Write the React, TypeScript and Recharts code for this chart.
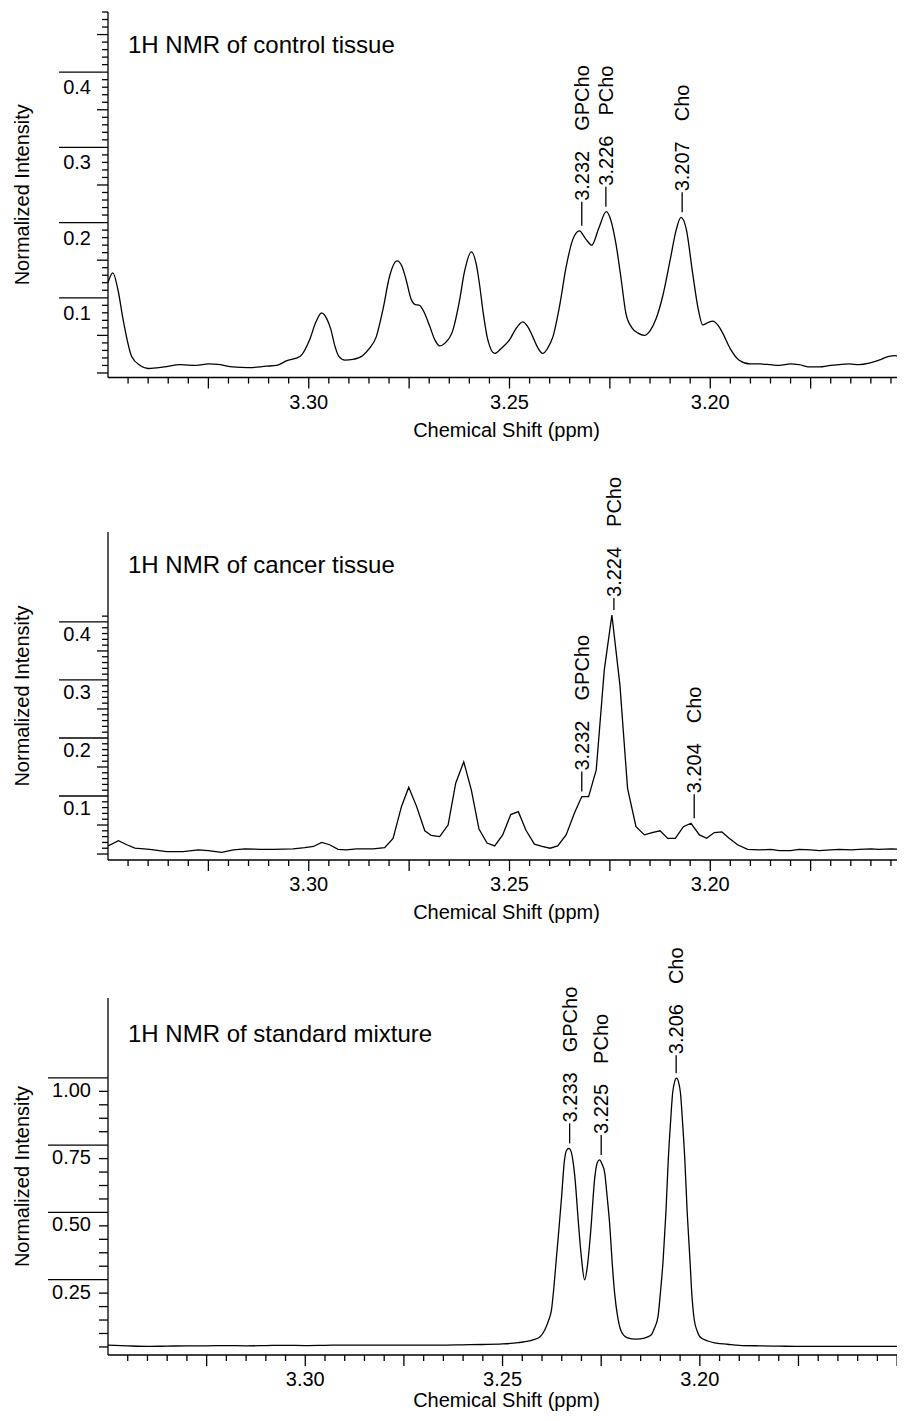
import React from "react";
import { Line, LineChart, ReferenceDot, XAxis, YAxis } from "recharts";

const FONT = '"Liberation Sans", Arial, Helvetica, sans-serif';

// control tissue spectrum (ppm, normalized intensity)
const controlShift = [
  3.35, 3.3488, 3.3475, 3.3462, 3.3441, 3.342, 3.34, 3.336, 3.332, 3.328, 3.325,
  3.322, 3.319, 3.315, 3.3105, 3.308, 3.3056, 3.3022, 3.2998, 3.2982, 3.2968,
  3.2955, 3.2945, 3.2935, 3.2925, 3.291, 3.289, 3.2866, 3.285, 3.2832, 3.2815,
  3.2799, 3.278, 3.2768, 3.2758, 3.2745, 3.2735, 3.2724, 3.2712, 3.27, 3.2685,
  3.2674, 3.266, 3.2641, 3.2625, 3.2612, 3.2595, 3.2583, 3.2575, 3.2565, 3.2554,
  3.2537, 3.252, 3.25, 3.2485, 3.2467, 3.2455, 3.2442, 3.243, 3.2417, 3.2405,
  3.2392, 3.2375, 3.2359, 3.2342, 3.2326, 3.231, 3.2295, 3.2278, 3.2259, 3.2247,
  3.2235, 3.2222, 3.221, 3.2195, 3.218, 3.2164, 3.215, 3.2135, 3.2119, 3.21,
  3.2085, 3.2073, 3.206, 3.2044, 3.203, 3.2019, 3.2006, 3.1994, 3.198, 3.1969,
  3.195, 3.1928, 3.19, 3.1878, 3.185, 3.1828, 3.18, 3.1779, 3.175, 3.1729, 3.17,
  3.168, 3.1654, 3.163, 3.1604, 3.158, 3.1555, 3.154, 3.1515,
];
const controlIntensity = [
  0.12, 0.133, 0.11, 0.07, 0.022, 0.01, 0.006, 0.008, 0.011, 0.01, 0.012,
  0.011, 0.008, 0.007, 0.009, 0.01, 0.016, 0.022, 0.044, 0.068, 0.08,
  0.072, 0.058, 0.036, 0.022, 0.017, 0.018, 0.023, 0.032, 0.048, 0.085,
  0.128, 0.149, 0.142, 0.125, 0.098, 0.091, 0.09, 0.08, 0.064, 0.043,
  0.036, 0.04, 0.057, 0.095, 0.135, 0.161, 0.145, 0.119, 0.078, 0.044,
  0.026, 0.033, 0.044, 0.058, 0.068, 0.062, 0.048, 0.034, 0.026, 0.033,
  0.048, 0.09, 0.141, 0.178, 0.189, 0.178, 0.17, 0.192, 0.2145, 0.202,
  0.172, 0.125, 0.079, 0.06, 0.053, 0.05, 0.056, 0.072, 0.101, 0.15,
  0.19, 0.207, 0.192, 0.133, 0.085, 0.064, 0.067, 0.069, 0.063, 0.053,
  0.032, 0.017, 0.012, 0.012, 0.011, 0.01, 0.012, 0.011, 0.008, 0.008, 0.01,
  0.011, 0.012, 0.011, 0.013, 0.017, 0.022, 0.023, 0.019,
];

// cancer tissue spectrum
const cancerShift = [
  3.35, 3.3474, 3.3453, 3.3433, 3.3396, 3.3354, 3.3313, 3.3275, 3.325, 3.3217,
  3.3188, 3.3159, 3.312, 3.3089, 3.3039, 3.301, 3.2988, 3.2968, 3.2948, 3.2927,
  3.2906, 3.2881, 3.284, 3.2811, 3.279, 3.2769, 3.2751, 3.2732, 3.2711, 3.2695,
  3.2674, 3.2653, 3.2634, 3.2614, 3.2595, 3.2576, 3.2556, 3.2537, 3.2517, 3.2497,
  3.2478, 3.2459, 3.2438, 3.2419, 3.2399, 3.238, 3.2359, 3.2338, 3.232, 3.2303,
  3.2284, 3.2264, 3.2245, 3.2225, 3.2206, 3.2185, 3.2164, 3.2145, 3.2125, 3.2106,
  3.2087, 3.2067, 3.2048, 3.2027, 3.2009, 3.199, 3.1971, 3.1953, 3.1932, 3.1907,
  3.1878, 3.185, 3.1828, 3.18, 3.1779, 3.175, 3.1729, 3.17, 3.1679, 3.165,
  3.1629, 3.16, 3.158, 3.155, 3.1517,
];
const cancerIntensity = [
  0.014, 0.023, 0.016, 0.01, 0.008, 0.004, 0.004, 0.007, 0.006, 0.003,
  0.007, 0.009, 0.008, 0.008, 0.009, 0.011, 0.013, 0.02, 0.016, 0.008,
  0.007, 0.009, 0.009, 0.011, 0.027, 0.082, 0.115, 0.083, 0.04, 0.032,
  0.03, 0.05, 0.122, 0.159, 0.11, 0.043, 0.019, 0.014, 0.033, 0.068,
  0.073, 0.041, 0.017, 0.013, 0.01, 0.014, 0.033, 0.071, 0.099, 0.099,
  0.145, 0.317, 0.412, 0.291, 0.113, 0.047, 0.033, 0.037, 0.04, 0.027,
  0.027, 0.047, 0.053, 0.033, 0.027, 0.037, 0.038, 0.027, 0.016, 0.008,
  0.007, 0.008, 0.006, 0.006, 0.008, 0.007, 0.006, 0.007, 0.008, 0.007,
  0.008, 0.009, 0.008, 0.009, 0.008,
];

// standard mixture spectrum
const standardShift = [
  3.35, 3.345, 3.34, 3.335, 3.33, 3.325, 3.32, 3.315, 3.31, 3.305, 3.3, 3.295,
  3.29, 3.285, 3.28, 3.275, 3.27, 3.265, 3.26, 3.255, 3.25, 3.246, 3.2423,
  3.2405, 3.2393, 3.2383, 3.2376, 3.237, 3.2364, 3.2357, 3.2351, 3.2343, 3.2338,
  3.2332, 3.2326, 3.2322, 3.2316, 3.2309, 3.23, 3.2292, 3.2285, 3.2277, 3.2266,
  3.226, 3.2254, 3.2248, 3.2241, 3.2235, 3.2228, 3.2222, 3.2216, 3.2208, 3.2199,
  3.2185, 3.2161, 3.214, 3.2123, 3.2115, 3.2106, 3.21, 3.2093, 3.2086, 3.208,
  3.2074, 3.2069, 3.2064, 3.2059, 3.2054, 3.2049, 3.2044, 3.2038, 3.2032, 3.2025,
  3.202, 3.2014, 3.2007, 3.2, 3.198, 3.1958, 3.193, 3.19, 3.1848, 3.18, 3.175,
  3.17, 3.165, 3.16, 3.155, 3.15, 3.148,
];
const standardIntensity = [
  0.007, 0.004, 0.002, 0.003, 0.004, 0.004, 0.005, 0.004, 0.005, 0.006, 0.005, 0.006,
  0.007, 0.007, 0.007, 0.007, 0.007, 0.007, 0.008, 0.009, 0.011, 0.016, 0.026,
  0.038, 0.063, 0.1, 0.138, 0.22, 0.323, 0.44, 0.546, 0.695, 0.73,
  0.738, 0.725, 0.695, 0.62, 0.485, 0.33, 0.249, 0.3, 0.422, 0.633,
  0.685, 0.695, 0.68, 0.646, 0.56, 0.447, 0.31, 0.2, 0.11, 0.057,
  0.035, 0.029, 0.033, 0.045, 0.07, 0.113, 0.2, 0.323, 0.5, 0.695,
  0.84, 0.943, 0.985, 0.999, 0.985, 0.943, 0.84, 0.695, 0.5, 0.323,
  0.19, 0.1, 0.06, 0.038, 0.022, 0.014, 0.01, 0.006, 0.004, 0.003, 0.002,
  0.002, 0.002, 0.002, 0.002, 0.002, 0.002,
];

// annotated peaks
const controlPeakShift = [3.232, 3.226, 3.207];
const controlPeakHeight = [0.189, 0.2145, 0.207];
const cancerPeakShift = [3.232, 3.224, 3.204];
const cancerPeakHeight = [0.099, 0.412, 0.053];
const standardPeakShift = [3.233, 3.225, 3.206];
const standardPeakHeight = [0.738, 0.695, 0.999];
const peakNames = ["GPCho", "PCho", "Cho"];

// axis ticks
const xLabelValues = [3.3, 3.25, 3.2];
const xLabelText = ["3.30", "3.25", "3.20"];
const tissueYLabelValues = [0.1, 0.2, 0.3, 0.4];
const tissueYLabelText = ["0.1", "0.2", "0.3", "0.4"];
const standardYLabelValues = [0.25, 0.5, 0.75, 1.0];
const standardYLabelText = ["0.25", "0.50", "0.75", "1.00"];

const range = (start: number, stop: number, step: number) => {
  const out: number[] = [];
  const n = Math.round((stop - start) / step);
  for (let i = 0; i <= n; i++) out.push(Math.round((start + i * step) * 10000) / 10000);
  return out;
};

const near = (a: number, b: number) => Math.abs(a - b) < 1e-6;

const XTick = (props: any) => {
  const { x, y, payload } = props;
  const v = payload.value;
  const major = Math.round(v * 1000) % 25 === 0;
  const idx = xLabelValues.findIndex((t) => near(t, v));
  return (
    <g>
      <line x1={x} x2={x} y1={y} y2={y + (major ? 11 : 6)} stroke="#000" strokeWidth={1.3} />
      {idx >= 0 && (
        <text x={x} y={y + 31} textAnchor="middle" fontSize={20} fill="#000">
          {xLabelText[idx]}
        </text>
      )}
    </g>
  );
};

const makeYTick =
  (labelValues: number[], labelText: string[], majorLen: number, minorLen: number, midLen: number, drop: number) =>
  (props: any) => {
    const { x, y, payload } = props;
    const v = payload.value;
    const idx = labelValues.findIndex((t) => near(t, v));
    const mid = near(v, 0) || Math.round(v * 1000) % 50 === 0;
    const len = idx >= 0 ? majorLen : mid ? midLen : minorLen;
    return (
      <g>
        <line x1={x - len} x2={x} y1={y} y2={y} stroke="#000" strokeWidth={1.3} />
        {idx >= 0 && (
          <text x={x - 17} y={y + drop} textAnchor="end" fontSize={20} fill="#000">
            {labelText[idx]}
          </text>
        )}
      </g>
    );
  };

const PeakLabel = (props: { cx: number; cy: number; shift: string; name: string; dash: number }) => {
  const { cx, cy, shift, name, dash } = props;
  return (
    <g>
      <line x1={cx} x2={cx} y1={cy - 5} y2={cy - 5 - dash} stroke="#000" strokeWidth={1.3} />
      <text transform={`translate(${cx + 7},${cy - 6 - dash}) rotate(-90)`} fontSize={20} fill="#000">
        {shift}
        <tspan dx={20}>{name}</tspan>
      </text>
    </g>
  );
};

interface PanelProps {
  title: string;
  shift: number[];
  intensity: number[];
  peakShift: number[];
  peakHeight: number[];
  peakDash: number[];
  curve: "monotone" | "linear";
  top: number;
  height: number;
  marginTop: number;
  xAxisHeight: number;
  xTitleDy: number;
  xDomain: [number, number];
  yDomain: [number, number];
  xTicks: number[];
  yTicks: number[];
  yTick: (p: any) => React.ReactElement;
  titleDy: number;
}

const Panel = (p: PanelProps) => {
  const data = p.shift.map((s, i) => ({ ppm: s, value: p.intensity[i] }));
  return (
    <div style={{ position: "absolute", left: 0, top: p.top }}>
      <LineChart
        width={905}
        height={p.height}
        data={data}
        margin={{ top: p.marginTop, right: 0, bottom: 0, left: 0 }}
      >
        <XAxis
          dataKey="ppm"
          type="number"
          domain={p.xDomain}
          reversed
          allowDataOverflow
          ticks={p.xTicks}
          interval={0}
          tickSize={0}
          tickMargin={0}
          tickLine={false}
          axisLine={{ stroke: "#000", strokeWidth: 1.3 }}
          tick={XTick}
          height={p.xAxisHeight}
          label={{
            content: (lp: any) => {
              const vb = lp.viewBox || {};
              return (
                <text
                  x={vb.x + vb.width / 2}
                  y={vb.y + p.xTitleDy}
                  textAnchor="middle"
                  fontSize={20}
                  fill="#000"
                >
                  Chemical Shift (ppm)
                </text>
              );
            },
          }}
        />
        <YAxis
          dataKey="value"
          type="number"
          domain={p.yDomain}
          allowDataOverflow
          ticks={p.yTicks}
          interval={0}
          tickSize={0}
          tickMargin={0}
          tickLine={false}
          axisLine={{ stroke: "#000", strokeWidth: 1.3 }}
          tick={p.yTick}
          width={108}
          label={{
            content: (lp: any) => {
              const vb = lp.viewBox || {};
              const cx = vb.x + 28.5;
              const cy = vb.y + vb.height / 2;
              return (
                <text
                  transform={`translate(${cx},${cy}) rotate(-90)`}
                  textAnchor="middle"
                  fontSize={20}
                  fill="#000"
                >
                  Normalized Intensity
                </text>
              );
            },
          }}
        />
        <Line
          type={p.curve}
          dataKey="value"
          stroke="#000"
          strokeWidth={1.3}
          dot={false}
          activeDot={false}
          isAnimationActive={false}
        />
        {p.peakShift.map((s, i) => (
          <ReferenceDot
            key={s}
            x={s}
            y={p.peakHeight[i]}
            r={0}
            ifOverflow="visible"
            shape={(dp: any) => (
              <PeakLabel cx={dp.cx} cy={dp.cy} shift={s.toFixed(3)} name={peakNames[i]} dash={p.peakDash[i]} />
            )}
          />
        ))}
        <text x={128} y={p.marginTop + p.titleDy} fontSize={24} fill="#000">
          {p.title}
        </text>
      </LineChart>
    </div>
  );
};

const tissueXTicks = range(3.155, 3.345, 0.005);
const standardXTicks = range(3.15, 3.345, 0.005);

export default function App() {
  return (
    <div style={{ position: "relative", width: 889, height: 1405, fontFamily: FONT }}>
      <div
        style={{
          position: "absolute",
          left: -8,
          top: -8,
          width: 905,
          height: 1421,
          background: "#fff",
          overflow: "hidden",
        }}
      >
        <Panel
          title="1H NMR of control tissue"
          shift={controlShift}
          intensity={controlIntensity}
          peakShift={controlPeakShift}
          peakHeight={controlPeakHeight}
          peakDash={[24, 20, 20]}
          curve="monotone"
          top={0}
          height={445}
          marginTop={12}
          xAxisHeight={67.5}
          xTitleDy={59}
          xDomain={[3.1515, 3.35]}
          yDomain={[-0.006, 0.48]}
          xTicks={tissueXTicks}
          yTicks={range(0, 0.48, 0.01)}
          yTick={makeYTick(tissueYLabelValues, tissueYLabelText, 49, 6, 11, 22)}
          titleDy={41}
        />
        <Panel
          title="1H NMR of cancer tissue"
          shift={cancerShift}
          intensity={cancerIntensity}
          peakShift={cancerPeakShift}
          peakHeight={cancerPeakHeight}
          peakDash={[20, 12, 24]}
          curve="linear"
          top={460}
          height={470}
          marginTop={72}
          xAxisHeight={70}
          xTitleDy={59}
          xDomain={[3.1515, 3.35]}
          yDomain={[-0.0103, 0.555]}
          xTicks={tissueXTicks}
          yTicks={range(0, 0.41, 0.01)}
          yTick={makeYTick(tissueYLabelValues, tissueYLabelText, 49, 6, 11, 19)}
          titleDy={41}
        />
        <Panel
          title="1H NMR of standard mixture"
          shift={standardShift}
          intensity={standardIntensity}
          peakShift={standardPeakShift}
          peakHeight={standardPeakHeight}
          peakDash={[20, 20, 18]}
          curve="monotone"
          top={935}
          height={486}
          marginTop={63}
          xAxisHeight={66}
          xTitleDy={52}
          xDomain={[3.148, 3.35]}
          yDomain={[-0.03, 1.297]}
          xTicks={standardXTicks}
          yTicks={range(0, 1.0, 0.05)}
          yTick={makeYTick(standardYLabelValues, standardYLabelText, 60, 9, 9, 19)}
          titleDy={44}
        />
      </div>
    </div>
  );
}
